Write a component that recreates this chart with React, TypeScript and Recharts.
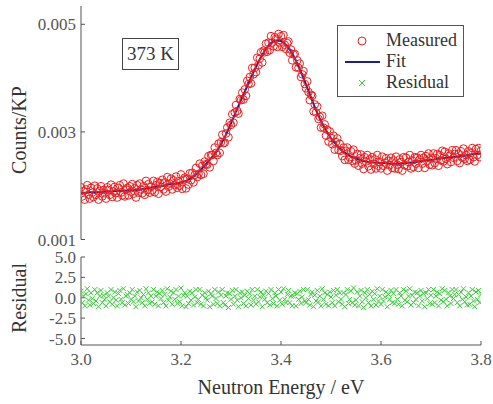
import { ComposedChart, Scatter, Line, XAxis, YAxis, Label } from 'recharts'

// energy grid (eV)
const ENERGY_START = 3.0
const MEASURED_STEP = 0.0025
const FIT_STEP = 0.01

const energyTicks = [3.0, 3.2, 3.4, 3.6, 3.8]
const countTicks = [0.001, 0.003, 0.005]
const residualTicks = [-5, -2.5, 0, 2.5, 5]

// Counts/KP, measured points every 0.0025 eV
const measured = [
  0.00197, 0.0018, 0.0019, 0.00174, 0.00193, 0.00201, 0.00183, 0.00176, 0.00196, 0.00187,
  0.00179, 0.002, 0.00183, 0.00195, 0.00174, 0.0019, 0.00199, 0.0018, 0.00192, 0.00186,
  0.00176, 0.00197, 0.00192, 0.00183, 0.00202, 0.00179, 0.00189, 0.00198, 0.00186, 0.00178,
  0.00196, 0.00201, 0.00187, 0.00182, 0.00204, 0.0018, 0.00193, 0.00196, 0.00182, 0.00199,
  0.00189, 0.00203, 0.00185, 0.00195, 0.00178, 0.00201, 0.00187, 0.00204, 0.00193, 0.00186,
  0.00199, 0.00183, 0.00209, 0.00192, 0.00203, 0.00187, 0.00198, 0.00191, 0.00209, 0.00188,
  0.00201, 0.00207, 0.00185, 0.00205, 0.00198, 0.00211, 0.00193, 0.00206, 0.00189, 0.00216,
  0.00198, 0.00204, 0.00213, 0.00193, 0.0021, 0.00201, 0.00217, 0.00196, 0.00208, 0.002,
  0.00221, 0.00194, 0.00211, 0.00215, 0.00195, 0.00213, 0.00202, 0.00223, 0.0021, 0.00224,
  0.00206, 0.0022, 0.00233, 0.00216, 0.00222, 0.00241, 0.0022, 0.00237, 0.00222, 0.00245,
  0.0024, 0.00239, 0.00255, 0.00234, 0.00257, 0.00257, 0.00246, 0.00271, 0.00261, 0.00257,
  0.00278, 0.00261, 0.00281, 0.00295, 0.00279, 0.0028, 0.00297, 0.00308, 0.0029, 0.00317,
  0.00313, 0.00333, 0.00317, 0.00336, 0.0035, 0.00339, 0.00334, 0.00361, 0.00359, 0.00373,
  0.0036, 0.00379, 0.00367, 0.00395, 0.00389, 0.00402, 0.0039, 0.00419, 0.00407, 0.00419,
  0.00411, 0.00438, 0.00424, 0.00436, 0.00448, 0.00429, 0.00451, 0.00448, 0.00464, 0.00449,
  0.00466, 0.00452, 0.00478, 0.00466, 0.00459, 0.00476, 0.00473, 0.00458, 0.00482, 0.00466,
  0.00478, 0.00458, 0.0048, 0.00462, 0.00454, 0.00465, 0.00468, 0.00447, 0.00453, 0.00433,
  0.00444, 0.00445, 0.0042, 0.00433, 0.00419, 0.00427, 0.00402, 0.00407, 0.00413, 0.00389,
  0.00381, 0.00394, 0.00374, 0.00359, 0.00369, 0.00367, 0.00338, 0.00351, 0.00336, 0.00347,
  0.00324, 0.00328, 0.00308, 0.0033, 0.00308, 0.00314, 0.00293, 0.00304, 0.00282, 0.00301,
  0.00289, 0.00277, 0.00293, 0.00267, 0.00281, 0.00288, 0.00266, 0.00278, 0.00265, 0.00255,
  0.00271, 0.00248, 0.00265, 0.00271, 0.00248, 0.00253, 0.00264, 0.00246, 0.00267, 0.00241,
  0.00247, 0.00259, 0.00237, 0.00251, 0.00258, 0.00241, 0.00231, 0.00253, 0.00245, 0.00257,
  0.00236, 0.00249, 0.0023, 0.00253, 0.00241, 0.00249, 0.00232, 0.00257, 0.00237, 0.00244,
  0.00232, 0.00254, 0.00237, 0.00243, 0.00251, 0.00228, 0.00246, 0.00238, 0.00252, 0.00233,
  0.00247, 0.00232, 0.00254, 0.00239, 0.00231, 0.00249, 0.00244, 0.00228, 0.00253, 0.00238,
  0.00252, 0.00236, 0.00244, 0.00257, 0.00232, 0.00247, 0.00235, 0.00253, 0.00241, 0.00252,
  0.00233, 0.00249, 0.00257, 0.00241, 0.00252, 0.00233, 0.00255, 0.00246, 0.0026, 0.00239,
  0.00252, 0.00238, 0.0026, 0.00242, 0.00251, 0.00259, 0.00237, 0.00257, 0.00247, 0.00265,
  0.00245, 0.00263, 0.0025, 0.0024, 0.0026, 0.00256, 0.00244, 0.00266, 0.00252, 0.00259,
  0.00266, 0.00246, 0.00259, 0.00242, 0.00264, 0.00252, 0.00269, 0.0025, 0.00257, 0.00246,
  0.00264, 0.00248, 0.00261, 0.0027, 0.00253, 0.00245, 0.00268, 0.00257, 0.0027, 0.00253,
  0.00265,
]

// fitted curve every 0.01 eV
const fit = [
  0.00187, 0.00187, 0.00188, 0.00188, 0.00188, 0.00189, 0.00189, 0.0019, 0.0019, 0.00191,
  0.00191, 0.00192, 0.00193, 0.00195, 0.00196, 0.00198, 0.00199, 0.00201, 0.00203, 0.00204,
  0.00206, 0.00209, 0.00214, 0.00221, 0.0023, 0.0024, 0.00251, 0.00262, 0.00277, 0.00295,
  0.00316, 0.00338, 0.00359, 0.0038, 0.00401, 0.00421, 0.00439, 0.00454, 0.00465, 0.0047,
  0.00469, 0.00462, 0.0045, 0.00432, 0.00411, 0.00388, 0.00364, 0.00341, 0.0032, 0.00303,
  0.00288, 0.00277, 0.00267, 0.0026, 0.00254, 0.00251, 0.00247, 0.00245, 0.00243, 0.00243,
  0.00242, 0.00242, 0.00241, 0.00241, 0.00241, 0.00242, 0.00243, 0.00244, 0.00246, 0.00247,
  0.00248, 0.00249, 0.00251, 0.00252, 0.00253, 0.00254, 0.00255, 0.00256, 0.00258, 0.00259,
  0.0026,
]

// residuals, same grid as measured
const residual = [
  0.8, -0.6, 0.2, -1.0, 0.5, 1.1, -0.3, -0.9, 0.6, -0.1,
  -0.7, 1.0, -0.4, 0.6, -1.1, 0.2, 0.9, -0.6, 0.3, -0.2,
  -1.0, 0.6, 0.2, -0.5, 1.0, -0.8, 0.0, 0.7, -0.3, -1.0,
  0.5, 0.9, -0.2, -0.6, 1.1, -0.9, 0.2, 0.4, -0.7, 0.6,
  -0.2, 1.0, -0.5, 0.2, -1.1, 0.7, -0.4, 0.9, 0.0, -0.6,
  0.4, -1.0, 1.1, -0.2, 0.6, -0.7, 0.2, -0.5, 1.0, -0.8,
  0.2, 0.7, -1.0, 0.5, -0.1, 0.9, -0.6, 0.4, -1.0, 1.1,
  -0.3, 0.1, 0.8, -0.8, 0.6, -0.2, 1.0, -0.7, 0.2, -0.5,
  1.2, -1.0, 0.3, 0.6, -1.1, 0.2, -0.7, 0.8, -0.3, 0.6,
  -0.9, 0.1, 1.0, -0.6, -0.2, 1.0, -0.8, 0.3, -1.0, 0.6,
  0.0, -0.3, 0.8, -1.1, 0.5, 0.2, -0.8, 1.0, -0.1, -0.7,
  0.7, -1.0, 0.3, 1.0, -0.6, -0.9, 0.2, 0.6, -1.2, 0.5,
  -0.2, 0.9, -0.8, 0.2, 1.0, -0.3, -1.1, 0.6, 0.0, 0.7,
  -0.7, 0.3, -1.0, 0.8, -0.1, 0.5, -0.9, 1.0, -0.3, 0.2,
  -0.8, 1.0, -0.5, 0.1, 0.7, -1.1, 0.3, -0.2, 0.8, -0.6,
  0.5, -0.9, 1.0, -0.1, -0.7, 0.6, 0.2, -1.0, 1.0, -0.3,
  0.7, -0.8, 1.1, -0.2, -0.6, 0.4, 0.9, -0.6, 0.2, -1.0,
  0.2, 0.6, -1.0, 0.5, -0.2, 0.8, -0.7, 0.1, 1.0, -0.4,
  -0.6, 1.0, -0.2, -0.9, 0.4, 0.7, -1.1, 0.3, -0.4, 0.9,
  -0.5, 0.2, -1.0, 1.1, -0.2, 0.6, -0.8, 0.4, -1.0, 0.7,
  0.1, -0.6, 0.9, -1.0, 0.3, 1.0, -0.5, 0.6, -0.2, -0.8,
  0.6, -1.1, 0.4, 1.0, -0.7, -0.2, 0.8, -0.6, 1.2, -0.9,
  -0.3, 0.7, -1.0, 0.2, 0.9, -0.5, -1.2, 0.6, 0.0, 1.0,
  -0.6, 0.4, -1.0, 0.8, -0.2, 0.5, -0.9, 1.1, -0.4, 0.2,
  -0.8, 1.0, -0.4, 0.1, 0.7, -1.1, 0.4, -0.2, 0.9, -0.6,
  0.5, -0.7, 1.0, -0.2, -0.8, 0.6, 0.2, -1.0, 1.0, -0.3,
  0.8, -0.5, 0.2, 1.1, -0.9, 0.3, -0.6, 0.7, -0.2, 0.6,
  -1.0, 0.2, 0.9, -0.4, 0.5, -1.1, 0.6, -0.1, 1.0, -0.7,
  0.3, -0.8, 1.0, -0.6, 0.2, 0.7, -1.0, 0.5, -0.3, 1.1,
  -0.5, 0.9, -0.2, -1.0, 0.6, 0.2, -0.7, 1.0, -0.1, 0.4,
  1.0, -0.6, 0.4, -1.0, 0.7, -0.2, 1.1, -0.5, 0.1, -0.9,
  0.6, -0.8, 0.2, 1.0, -0.4, -1.1, 0.7, -0.2, 0.9, -0.6,
  0.4,
]

const measuredData = measured.map((v, i) => ({ e: ENERGY_START + i * MEASURED_STEP, v }))
const fitData = fit.map((v, i) => ({ e: ENERGY_START + i * FIT_STEP, v }))
const residualData = residual.map((v, i) => ({ e: ENERGY_START + i * MEASURED_STEP, v }))

const FONT = '"Liberation Serif", "Times New Roman", serif'
const AXIS = '#555'
const tickStyle = { fill: '#555', fontSize: 17, fontFamily: FONT }
const RED = '#f01c1c'
const BLUE = '#1e1e9a'
const GREEN = '#34cc34'

const OpenCircle = (props: any) => (
  <circle cx={props.cx} cy={props.cy} r={3.8} fill="none" stroke={RED} strokeWidth={1} />
)

const Cross = (props: any) => {
  const { cx, cy } = props
  const s = 2.5
  return (
    <path
      d={`M${cx - s},${cy - s}L${cx + s},${cy + s}M${cx + s},${cy - s}L${cx - s},${cy + s}`}
      stroke={GREEN}
      strokeWidth={1}
      fill="none"
    />
  )
}

const vTitle = (text: string, x: number, y: number) => () => (
  <text
    x={x}
    y={y}
    transform={`rotate(-90 ${x} ${y})`}
    textAnchor="middle"
    dominantBaseline="central"
    fill="#333"
    fontSize={20}
    fontFamily={FONT}
  >
    {text}
  </text>
)

export default function App() {
  return (
    <div style={{ position: 'absolute', left: 0, top: 0, width: 493, height: 404, background: '#fff', fontFamily: FONT }}>
      <div style={{ position: 'absolute', left: 0, top: 0 }}>
        <ComposedChart width={493} height={250} margin={{ top: 6, right: 12, bottom: 10.5, left: 0 }}>
          <XAxis
            xAxisId="e"
            dataKey="e"
            type="number"
            orientation="top"
            domain={[3, 3.8]}
            ticks={energyTicks}
            interval={0}
            allowDataOverflow
            height={0}
            tick={false}
            tickSize={-4}
            stroke={AXIS}
          />
          <YAxis
            yAxisId="c"
            dataKey="v"
            type="number"
            domain={[0.001, 0.00534]}
            ticks={countTicks}
            interval={0}
            allowDataOverflow
            width={81}
            tickSize={-4}
            tickMargin={9}
            tick={tickStyle}
            tickFormatter={(v: number) => v.toFixed(3)}
            stroke={AXIS}
          >
            <Label content={vTitle('Counts/KP', 19, 130)} />
          </YAxis>
          <YAxis
            yAxisId="cr"
            orientation="right"
            type="number"
            domain={[0.001, 0.00534]}
            ticks={countTicks}
            interval={0}
            allowDataOverflow
            width={0}
            tick={false}
            tickSize={-4}
            stroke={AXIS}
          />
          <Scatter
            xAxisId="e"
            yAxisId="c"
            data={measuredData}
            dataKey="v"
            shape={OpenCircle}
            isAnimationActive={false}
          />
          <Line
            xAxisId="e"
            yAxisId="c"
            data={fitData}
            dataKey="v"
            type="monotone"
            stroke={BLUE}
            strokeWidth={2}
            dot={false}
            isAnimationActive={false}
          />
        </ComposedChart>
      </div>

      <div style={{ position: 'absolute', left: 0, top: 242 }}>
        <ComposedChart width={493} height={162} margin={{ top: 15, right: 12, bottom: 0, left: 0 }}>
          <XAxis
            xAxisId="e"
            dataKey="e"
            type="number"
            domain={[3, 3.8]}
            ticks={energyTicks}
            interval={0}
            allowDataOverflow
            height={59}
            tickSize={-4}
            tickMargin={12}
            tick={tickStyle}
            tickFormatter={(v: number) => v.toFixed(1)}
            stroke={AXIS}
          >
            <Label
              content={() => (
                <text x={281} y={145} textAnchor="middle" dominantBaseline="central" fill="#333" fontSize={20} fontFamily={FONT}>
                  Neutron Energy / eV
                </text>
              )}
            />
          </XAxis>
          <YAxis
            yAxisId="r"
            dataKey="v"
            type="number"
            domain={[-5.8, 5]}
            ticks={residualTicks}
            interval={0}
            allowDataOverflow
            width={81}
            tickSize={-4}
            tickMargin={9}
            tick={tickStyle}
            tickFormatter={(v: number) => v.toFixed(1)}
            stroke={AXIS}
          >
            <Label content={vTitle('Residual', 19, 56)} />
          </YAxis>
          <YAxis
            yAxisId="rr"
            orientation="right"
            type="number"
            domain={[-5.8, 5]}
            ticks={residualTicks}
            interval={0}
            allowDataOverflow
            width={0}
            tick={false}
            tickSize={-4}
            stroke={AXIS}
          />
          <Scatter
            xAxisId="e"
            yAxisId="r"
            data={residualData}
            dataKey="v"
            shape={Cross}
            isAnimationActive={false}
          />
        </ComposedChart>
      </div>

      <div
        style={{
          position: 'absolute',
          left: 122,
          top: 38,
          width: 55,
          height: 30,
          border: '1px solid #444',
          background: '#fff',
          color: '#333',
          fontSize: 19,
          lineHeight: '30px',
          textAlign: 'center',
        }}
      >
        373 K
      </div>

      <div
        style={{
          position: 'absolute',
          left: 337,
          top: 25,
          width: 125,
          height: 70,
          border: '1px solid #555',
          background: '#fff',
          color: '#333',
          fontSize: 18,
        }}
      >
        {[
          { name: 'Measured', icon: <circle cx={20} cy={8} r={4} fill="none" stroke={RED} strokeWidth={1} /> },
          { name: 'Fit', icon: <line x1={3} y1={8} x2={38} y2={8} stroke={BLUE} strokeWidth={2} /> },
          { name: 'Residual', icon: <path d="M17,5L23,11M23,5L17,11" stroke={GREEN} strokeWidth={1} /> },
        ].map((row, i) => (
          <div key={row.name} style={{ position: 'absolute', left: 0, top: 4 + i * 21, height: 21, display: 'flex', alignItems: 'center' }}>
            <svg width={40} height={16} style={{ marginLeft: 4, display: 'block' }}>
              {row.icon}
            </svg>
            <span style={{ marginLeft: 4, lineHeight: '21px' }}>{row.name}</span>
          </div>
        ))}
      </div>
    </div>
  )
}
